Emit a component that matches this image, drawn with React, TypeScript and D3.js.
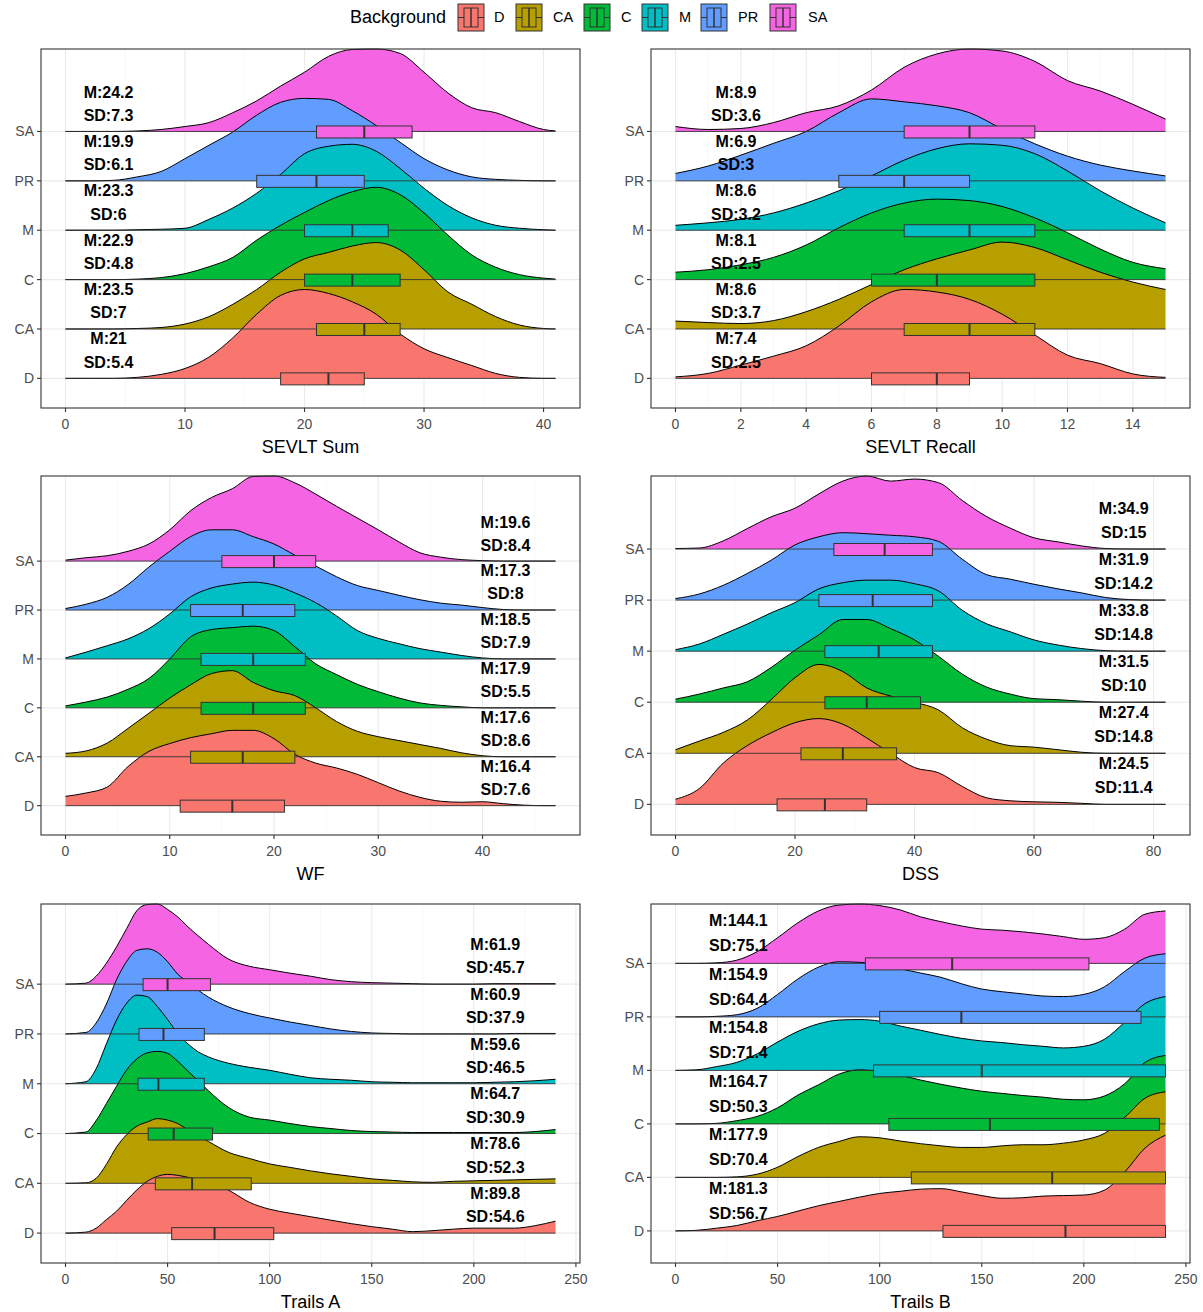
import React from 'react';
import * as d3 from 'd3';

const categories = ['D', 'CA', 'C', 'M', 'PR', 'SA'];
const fillColors = ['#F8766D', '#B79F00', '#00BA38', '#00BFC4', '#619CFF', '#F564E3'];

// ridge heights are in row units, one list per category (D, CA, C, M, PR, SA)

// SEVLT Sum
const sumGrid = [0, 2, 4, 6, 8, 10, 12, 14, 16, 18, 20, 22, 24, 26, 28, 30, 32, 34, 36, 38, 40, 41];
const sumRidges = [
  [0, 0, 0, 0.02, 0.08, 0.2, 0.43, 0.82, 1.3, 1.68, 1.8, 1.72, 1.55, 1.3, 0.9, 0.6, 0.42, 0.26, 0.1, 0.02, 0, 0],
  [0, 0, 0, 0.01, 0.03, 0.1, 0.25, 0.5, 0.8, 1.15, 1.42, 1.55, 1.68, 1.75, 1.6, 1.2, 0.75, 0.5, 0.25, 0.08, 0.01, 0],
  [0, 0, 0, 0.01, 0.04, 0.12, 0.26, 0.45, 0.8, 1.1, 1.36, 1.6, 1.78, 1.87, 1.72, 1.35, 0.9, 0.5, 0.25, 0.1, 0.03, 0.01],
  [0, 0, 0, 0.01, 0.02, 0.04, 0.22, 0.45, 0.75, 1.13, 1.55, 1.7, 1.74, 1.6, 1.25, 0.85, 0.5, 0.25, 0.1, 0.04, 0.01, 0],
  [0, 0, 0.01, 0.08, 0.19, 0.45, 0.72, 0.99, 1.33, 1.59, 1.67, 1.65, 1.42, 1.12, 0.78, 0.45, 0.22, 0.08, 0.03, 0.01, 0, 0],
  [0, 0, 0, 0.01, 0.04, 0.1, 0.18, 0.38, 0.62, 0.92, 1.2, 1.52, 1.66, 1.67, 1.58, 1.2, 0.78, 0.48, 0.38, 0.2, 0.04, 0.01],
];
const sumBoxes = [[18, 22, 25], [21, 25, 28], [20, 24, 28], [20, 24, 27], [16, 21, 25], [21, 25, 29]];
const sumMeans = ['21', '23.5', '22.9', '23.3', '19.9', '24.2'];
const sumSDs = ['5.4', '7', '4.8', '6', '6.1', '7.3'];
const sumTicks = [0, 10, 20, 30, 40];

// SEVLT Recall
const recallGrid = [0, 1, 2, 3, 4, 5, 6, 7, 8, 9, 10, 11, 12, 13, 14, 15];
const recallRidges = [
  [0.03, 0.1, 0.27, 0.45, 0.66, 1.06, 1.55, 1.8, 1.75, 1.6, 1.3, 0.88, 0.47, 0.3, 0.09, 0.02],
  [0.16, 0.13, 0.11, 0.17, 0.35, 0.6, 0.9, 1.2, 1.42, 1.6, 1.76, 1.65, 1.4, 1.15, 0.95, 0.8],
  [0.15, 0.2, 0.3, 0.45, 0.7, 1.05, 1.35, 1.55, 1.63, 1.6, 1.48, 1.25, 0.95, 0.62, 0.35, 0.22],
  [0.1, 0.15, 0.22, 0.35, 0.55, 0.8, 1.1, 1.42, 1.65, 1.75, 1.72, 1.55, 1.2, 0.8, 0.45, 0.15],
  [0.15, 0.3, 0.52, 0.76, 1.0, 1.38, 1.66, 1.6, 1.52, 1.38, 1.05, 0.75, 0.5, 0.32, 0.2, 0.1],
  [0.1, 0.04, 0.06, 0.18, 0.38, 0.52, 0.84, 1.3, 1.57, 1.67, 1.63, 1.42, 1.03, 0.82, 0.55, 0.25],
];
const recallBoxes = [[6, 8, 9], [7, 9, 11], [6, 8, 11], [7, 9, 11], [5, 7, 9], [7, 9, 11]];
const recallMeans = ['7.4', '8.6', '8.1', '8.6', '6.9', '8.9'];
const recallSDs = ['2.5', '3.7', '2.5', '3.2', '3', '3.6'];
const recallTicks = [0, 2, 4, 6, 8, 10, 12, 14];

// WF
const wfGrid = [0, 2, 4, 6, 8, 10, 12, 14, 16, 18, 20, 22, 24, 26, 28, 30, 32, 34, 36, 38, 40, 42, 44, 46, 47];
const wfRidges = [
  [0.19, 0.26, 0.38, 0.8, 1.11, 1.27, 1.39, 1.47, 1.54, 1.54, 1.37, 1.05, 0.87, 0.77, 0.64, 0.47, 0.3, 0.17, 0.09, 0.07, 0.08, 0.04, 0.01, 0, 0],
  [0.07, 0.12, 0.28, 0.58, 0.89, 1.2, 1.47, 1.7, 1.76, 1.52, 1.35, 1.25, 1.0, 0.72, 0.52, 0.41, 0.33, 0.25, 0.17, 0.08, 0.02, 0, 0, 0, 0],
  [0.04, 0.12, 0.22, 0.38, 0.6, 1.0, 1.45, 1.6, 1.64, 1.67, 1.58, 1.25, 0.9, 0.68, 0.48, 0.33, 0.2, 0.1, 0.05, 0.02, 0, 0, 0, 0, 0],
  [0.02, 0.14, 0.27, 0.41, 0.62, 0.92, 1.27, 1.45, 1.53, 1.57, 1.51, 1.35, 1.15, 0.88, 0.58, 0.42, 0.31, 0.21, 0.14, 0.07, 0.02, 0, 0, 0, 0],
  [0.03, 0.12, 0.26, 0.52, 0.88, 1.2, 1.5, 1.64, 1.64, 1.5, 1.35, 1.12, 0.9, 0.68, 0.5, 0.4, 0.3, 0.21, 0.14, 0.1, 0.05, 0.01, 0, 0, 0],
  [0.02, 0.07, 0.11, 0.2, 0.35, 0.64, 1.03, 1.3, 1.48, 1.73, 1.74, 1.6, 1.37, 1.12, 0.88, 0.64, 0.39, 0.17, 0.08, 0.03, 0.01, 0, 0, 0, 0],
];
const wfBoxes = [[11, 16, 21], [12, 17, 22], [13, 18, 23], [13, 18, 23], [12, 17, 22], [15, 20, 24]];
const wfMeans = ['16.4', '17.6', '17.9', '18.5', '17.3', '19.6'];
const wfSDs = ['7.6', '8.6', '5.5', '7.9', '8', '8.4'];
const wfTicks = [0, 10, 20, 30, 40];

// DSS
const dssGrid = [0, 4, 8, 12, 16, 20, 24, 28, 32, 36, 40, 44, 48, 52, 56, 60, 64, 68, 72, 76, 80, 82];
const dssRidges = [
  [0.1, 0.31, 0.81, 1.15, 1.4, 1.6, 1.68, 1.57, 1.3, 1.0, 0.72, 0.62, 0.35, 0.13, 0.07, 0.05, 0.04, 0.02, 0, 0, 0, 0],
  [0.07, 0.24, 0.41, 0.65, 1.05, 1.48, 1.74, 1.6, 1.28, 1.12, 1.0, 0.85, 0.5, 0.28, 0.15, 0.12, 0.07, 0.02, 0, 0, 0, 0],
  [0.06, 0.16, 0.28, 0.4, 0.68, 1.02, 1.32, 1.62, 1.62, 1.44, 1.22, 0.9, 0.55, 0.3, 0.16, 0.07, 0.05, 0.02, 0, 0, 0, 0],
  [0.03, 0.14, 0.33, 0.53, 0.75, 0.95, 1.22, 1.34, 1.39, 1.39, 1.32, 1.18, 0.8, 0.54, 0.38, 0.22, 0.12, 0.05, 0.01, 0, 0, 0],
  [0.03, 0.12, 0.29, 0.52, 0.78, 1.08, 1.24, 1.32, 1.3, 1.27, 1.24, 1.15, 0.8, 0.5, 0.41, 0.31, 0.22, 0.14, 0.05, 0.01, 0, 0],
  [0.01, 0.02, 0.16, 0.4, 0.63, 0.8, 1.08, 1.33, 1.43, 1.33, 1.37, 1.3, 0.95, 0.64, 0.41, 0.22, 0.14, 0.06, 0.01, 0, 0, 0],
];
const dssBoxes = [[17, 25, 32], [21, 28, 37], [25, 32, 41], [25, 34, 43], [24, 33, 43], [26.5, 35, 43]];
const dssMeans = ['24.5', '27.4', '31.5', '33.8', '31.9', '34.9'];
const dssSDs = ['11.4', '14.8', '10', '14.8', '14.2', '15'];
const dssTicks = [0, 20, 40, 60, 80];

// Trails A
const trailsAGrid = [0, 10, 15, 20, 25, 30, 35, 40, 45, 50, 55, 60, 65, 70, 80, 90, 100, 110, 120, 130, 140, 150, 160, 170, 180, 190, 200, 210, 220, 230, 240];
const trailsARidges = [
  [0, 0.02, 0.1, 0.27, 0.44, 0.66, 0.87, 1.04, 1.14, 1.18, 1.16, 1.12, 1.07, 1.02, 0.86, 0.62, 0.48, 0.4, 0.33, 0.26, 0.19, 0.13, 0.08, 0.03, 0.05, 0.08, 0.1, 0.1, 0.1, 0.15, 0.24],
  [0, 0.01, 0.1, 0.38, 0.73, 0.98, 1.15, 1.23, 1.3, 1.27, 1.2, 1.07, 0.95, 0.84, 0.62, 0.5, 0.39, 0.32, 0.25, 0.19, 0.14, 0.09, 0.06, 0.03, 0.02, 0.04, 0.05, 0.06, 0.07, 0.08, 0.09],
  [0, 0.03, 0.26, 0.6, 0.95, 1.28, 1.5, 1.62, 1.65, 1.61, 1.45, 1.25, 1.06, 0.86, 0.52, 0.33, 0.27, 0.2, 0.14, 0.1, 0.06, 0.04, 0.03, 0.02, 0.02, 0.02, 0.02, 0.02, 0.02, 0.04, 0.08],
  [0, 0.04, 0.3, 0.8, 1.28, 1.62, 1.78, 1.75, 1.55, 1.29, 1.01, 0.8, 0.64, 0.54, 0.41, 0.33, 0.27, 0.19, 0.12, 0.09, 0.07, 0.04, 0.03, 0.02, 0.02, 0.02, 0.02, 0.03, 0.04, 0.06, 0.09],
  [0, 0.03, 0.22, 0.6, 1.09, 1.46, 1.68, 1.71, 1.64, 1.45, 1.2, 1.04, 0.88, 0.74, 0.54, 0.41, 0.32, 0.24, 0.17, 0.1, 0.05, 0.02, 0.01, 0, 0, 0, 0, 0, 0.01, 0.01, 0.01],
  [0, 0.02, 0.16, 0.42, 0.75, 1.12, 1.48, 1.6, 1.61, 1.5, 1.35, 1.15, 0.97, 0.8, 0.5, 0.36, 0.29, 0.22, 0.16, 0.09, 0.05, 0.03, 0.02, 0.01, 0, 0, 0, 0.01, 0.01, 0.01, 0.01],
];
const trailsABoxes = [[52, 73, 102], [44, 62, 91], [40.5, 53, 72], [35.5, 45.5, 68], [36, 48, 68], [38, 50, 71]];
const trailsAMeans = ['89.8', '78.6', '64.7', '59.6', '60.9', '61.9'];
const trailsASDs = ['54.6', '52.3', '30.9', '46.5', '37.9', '45.7'];
const trailsTicks = [0, 50, 100, 150, 200, 250];

// Trails B
const trailsBGrid = [0, 10, 20, 30, 40, 50, 60, 70, 80, 90, 100, 110, 120, 130, 140, 150, 160, 170, 180, 190, 200, 210, 220, 230, 240];
const trailsBRidges = [
  [0, 0.01, 0.05, 0.1, 0.19, 0.27, 0.37, 0.47, 0.55, 0.63, 0.7, 0.74, 0.78, 0.79, 0.73, 0.66, 0.61, 0.62, 0.65, 0.66, 0.67, 0.76, 1.1, 1.55, 1.79],
  [0, 0, 0, 0.01, 0.06, 0.19, 0.39, 0.56, 0.67, 0.76, 0.74, 0.68, 0.63, 0.59, 0.56, 0.56, 0.59, 0.61, 0.61, 0.64, 0.7, 0.82, 1.12, 1.48, 1.6],
  [0, 0, 0.01, 0.06, 0.14, 0.3, 0.54, 0.73, 0.93, 1.01, 0.98, 0.91, 0.82, 0.74, 0.67, 0.61, 0.57, 0.53, 0.5, 0.46, 0.45, 0.52, 0.75, 1.15, 1.28],
  [0, 0.01, 0.07, 0.15, 0.31, 0.53, 0.73, 0.87, 0.94, 0.95, 0.92, 0.83, 0.75, 0.67, 0.6, 0.55, 0.52, 0.48, 0.45, 0.42, 0.45, 0.58, 0.9, 1.25, 1.38],
  [0, 0, 0.01, 0.04, 0.16, 0.42, 0.71, 0.93, 1.03, 1.02, 0.98, 0.9, 0.82, 0.74, 0.62, 0.52, 0.47, 0.43, 0.39, 0.38, 0.42, 0.56, 0.85, 1.1, 1.18],
  [0, 0, 0.01, 0.06, 0.22, 0.48, 0.76, 0.98, 1.09, 1.11, 1.08, 1.0, 0.87, 0.78, 0.7, 0.64, 0.62, 0.59, 0.55, 0.5, 0.45, 0.48, 0.64, 0.92, 0.98],
];
const trailsBBoxes = [[131, 191, 240], [115.5, 184.5, 240], [104.5, 154, 237], [97, 150, 240], [100, 140, 228], [93, 135.5, 202.5]];
const trailsBMeans = ['181.3', '177.9', '164.7', '154.8', '154.9', '144.1'];
const trailsBSDs = ['56.7', '70.4', '50.3', '71.4', '64.4', '75.1'];

const panels = [
  { title: 'SEVLT Sum', grid: sumGrid, ridges: sumRidges, boxes: sumBoxes, means: sumMeans, sds: sumSDs, ticks: sumTicks, labelAt: 3.6, col: 0, row: 0 },
  { title: 'SEVLT Recall', grid: recallGrid, ridges: recallRidges, boxes: recallBoxes, means: recallMeans, sds: recallSDs, ticks: recallTicks, labelAt: 1.85, col: 1, row: 0 },
  { title: 'WF', grid: wfGrid, ridges: wfRidges, boxes: wfBoxes, means: wfMeans, sds: wfSDs, ticks: wfTicks, labelAt: 42.2, col: 0, row: 1 },
  { title: 'DSS', grid: dssGrid, ridges: dssRidges, boxes: dssBoxes, means: dssMeans, sds: dssSDs, ticks: dssTicks, labelAt: 75, col: 1, row: 1 },
  { title: 'Trails A', grid: trailsAGrid, ridges: trailsARidges, boxes: trailsABoxes, means: trailsAMeans, sds: trailsASDs, ticks: trailsTicks, labelAt: 210.5, col: 0, row: 2 },
  { title: 'Trails B', grid: trailsBGrid, ridges: trailsBRidges, boxes: trailsBBoxes, means: trailsBMeans, sds: trailsBSDs, ticks: trailsTicks, labelAt: 30.8, col: 1, row: 2 },
];

const colLeft = [41, 651];
const rowTop = [49, 476, 904];
const panelW = 539;
const panelH = 359;
const font = '"Liberation Sans", Arial, Helvetica, sans-serif';
const legendKeyX = [458, 516, 584, 642, 701, 770];
const legendLabelX = [494, 553, 621, 679, 738, 808];

function Panel({ p }) {
  const left = colLeft[p.col];
  const top = rowTop[p.row];
  const bottom = top + panelH;
  const lo = p.grid[0];
  const hi = p.grid[p.grid.length - 1];
  const pad = (hi - lo) * 0.05;
  const x = d3.scaleLinear().domain([lo - pad, hi + pad]).range([left, left + panelW]);
  // discrete rows 1..6, expanded by 0.6 below, top set by the highest ridge
  const yMax = Math.max(6.6, d3.max(p.ridges, (r, i) => i + 1 + d3.max(r)));
  const y = d3.scaleLinear().domain([0.4, yMax]).range([bottom, top]);

  const [d0, d1] = x.domain();
  const dt = p.ticks[1] - p.ticks[0];
  const minor = d3.range(p.ticks[0] - dt / 2, d1, dt).filter(v => v >= d0);
  const order = d3.range(categories.length).reverse(); // SA first, D last (on top)

  return (
    <g>
      {minor.map(v => (
        <line key={'mn' + v} x1={x(v)} x2={x(v)} y1={top} y2={bottom} stroke="#F3F3F3" strokeWidth={0.6} />
      ))}
      {p.ticks.map(v => (
        <line key={'mj' + v} x1={x(v)} x2={x(v)} y1={top} y2={bottom} stroke="#EBEBEB" strokeWidth={1.1} />
      ))}
      {categories.map((c, i) => (
        <line key={'yg' + c} x1={left} x2={left + panelW} y1={y(i + 1)} y2={y(i + 1)} stroke="#EBEBEB" strokeWidth={1.1} />
      ))}

      {order.map(i => {
        const area = d3.area<number>()
          .x((_, j) => x(p.grid[j]))
          .y0(y(i + 1))
          .y1(h => y(i + 1 + h))
          .curve(d3.curveMonotoneX);
        const line = d3.line<number>()
          .x((_, j) => x(p.grid[j]))
          .y(h => y(i + 1 + h))
          .curve(d3.curveMonotoneX);
        return (
          <g key={'r' + categories[i]}>
            <path d={area(p.ridges[i])} fill={fillColors[i]} />
            <path d={line(p.ridges[i])} fill="none" stroke="#000" strokeWidth={1} />
          </g>
        );
      })}

      {categories.map((c, i) => {
        const [q1, med, q3] = p.boxes[i];
        const base = y(i + 1);
        return (
          <g key={'b' + c}>
            <line x1={x(lo)} x2={x(hi)} y1={base} y2={base} stroke="#333" strokeWidth={0.9} />
            <rect x={x(q1)} y={base - 5.5} width={x(q3) - x(q1)} height={12} fill={fillColors[i]} stroke="#333" strokeWidth={1} />
            <line x1={x(med)} x2={x(med)} y1={base - 5.5} y2={base + 6.5} stroke="#333" strokeWidth={2} />
          </g>
        );
      })}

      {categories.map((c, i) => (
        <g key={'t' + c} fontFamily={font} fontWeight="bold" fontSize={16} textAnchor="middle" fill="#000">
          <text x={x(p.labelAt)} y={y(i + 1.8)} dy="0.35em">{'M:' + p.means[i]}</text>
          <text x={x(p.labelAt)} y={y(i + 1.33)} dy="0.35em">{'SD:' + p.sds[i]}</text>
        </g>
      ))}

      <rect x={left} y={top} width={panelW} height={panelH} fill="none" stroke="#333" strokeWidth={1.1} />

      {p.ticks.map(v => (
        <g key={'xt' + v}>
          <line x1={x(v)} x2={x(v)} y1={bottom} y2={bottom + 4} stroke="#333" strokeWidth={1.1} />
          <text x={x(v)} y={bottom + 21} textAnchor="middle" fontFamily={font} fontSize={14} fill="#4D4D4D">{v}</text>
        </g>
      ))}
      {categories.map((c, i) => (
        <g key={'yt' + c}>
          <line x1={left - 4} x2={left} y1={y(i + 1)} y2={y(i + 1)} stroke="#333" strokeWidth={1.1} />
          <text x={left - 7} y={y(i + 1)} dy="0.35em" textAnchor="end" fontFamily={font} fontSize={14} fill="#4D4D4D">{c}</text>
        </g>
      ))}
      <text x={left + panelW / 2} y={bottom + 45} textAnchor="middle" fontFamily={font} fontSize={18} fill="#000">{p.title}</text>
    </g>
  );
}

function Legend() {
  return (
    <g>
      <text x={350} y={17} dy="0.35em" fontFamily={font} fontSize={18} fill="#000">Background</text>
      {categories.map((c, i) => {
        const kx = legendKeyX[i];
        const ky = 4;
        return (
          <g key={'lg' + c}>
            <rect x={kx} y={ky} width={26} height={27} fill={fillColors[i]} stroke="#333" strokeWidth={1} />
            <rect x={kx + 6} y={ky + 4} width={14} height={19} fill="none" stroke="#333" strokeWidth={1} />
            <line x1={kx + 13} x2={kx + 13} y1={ky + 4} y2={ky + 23} stroke="#333" strokeWidth={1.5} />
            <line x1={kx} x2={kx + 6} y1={ky + 13.5} y2={ky + 13.5} stroke="#333" strokeWidth={1} />
            <line x1={kx + 20} x2={kx + 26} y1={ky + 13.5} y2={ky + 13.5} stroke="#333" strokeWidth={1} />
            <text x={legendLabelX[i]} y={17} dy="0.35em" fontFamily={font} fontSize={14.5} fill="#000">{c}</text>
          </g>
        );
      })}
    </g>
  );
}

export default function App() {
  return (
    <svg width={1203} height={1312} style={{ position: 'absolute', left: 0, top: 0, background: '#fff' }}>
      <rect width={1203} height={1312} fill="#fff" />
      <Legend />
      {panels.map(p => <Panel key={p.title} p={p} />)}
    </svg>
  );
}
